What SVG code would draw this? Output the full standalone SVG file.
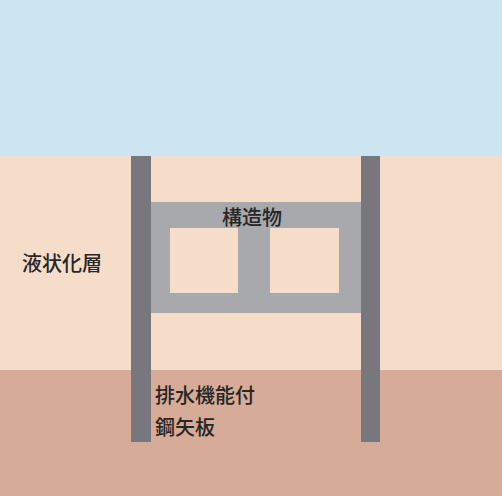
<svg xmlns="http://www.w3.org/2000/svg" width="502" height="496" viewBox="0 0 502 496">
  <style>
    .lbl { font-family: "Noto Sans CJK JP", "Noto Sans", sans-serif; font-size: 20px; font-weight: 500; fill: #262626; }
    .pile { fill: #77777d; }
    .frame { fill: #a7a9ad; }
    .void { fill: #f6ddc9; }
  </style>
  <!-- ground strata -->
  <g id="strata">
    <rect x="0" y="0" width="502" height="156" fill="#cde4f1"/>
    <rect x="0" y="156" width="502" height="214" fill="#f6ddc9"/>
    <rect x="0" y="370" width="502" height="126" fill="#d6ab97"/>
  </g>
  <!-- box culvert structure -->
  <g id="structure">
    <rect class="frame" x="151" y="202" width="210" height="111"/>
    <rect class="void" x="170" y="228" width="68" height="65"/>
    <rect class="void" x="270" y="228" width="69" height="65"/>
    <text class="lbl" x="252" y="225" text-anchor="middle">構造物</text>
  </g>
  <!-- sheet piles -->
  <g id="pile-left">
    <rect class="pile" x="131" y="156" width="20" height="286"/>
  </g>
  <g id="pile-right">
    <rect class="pile" x="361" y="156" width="19" height="286"/>
  </g>
  <g id="label-liquefaction">
    <text class="lbl" x="22" y="271">液状化層</text>
  </g>
  <g id="label-pile">
    <text class="lbl" x="155" y="403">排水機能付</text>
    <text class="lbl" x="155" y="435">鋼矢板</text>
  </g>
</svg>
